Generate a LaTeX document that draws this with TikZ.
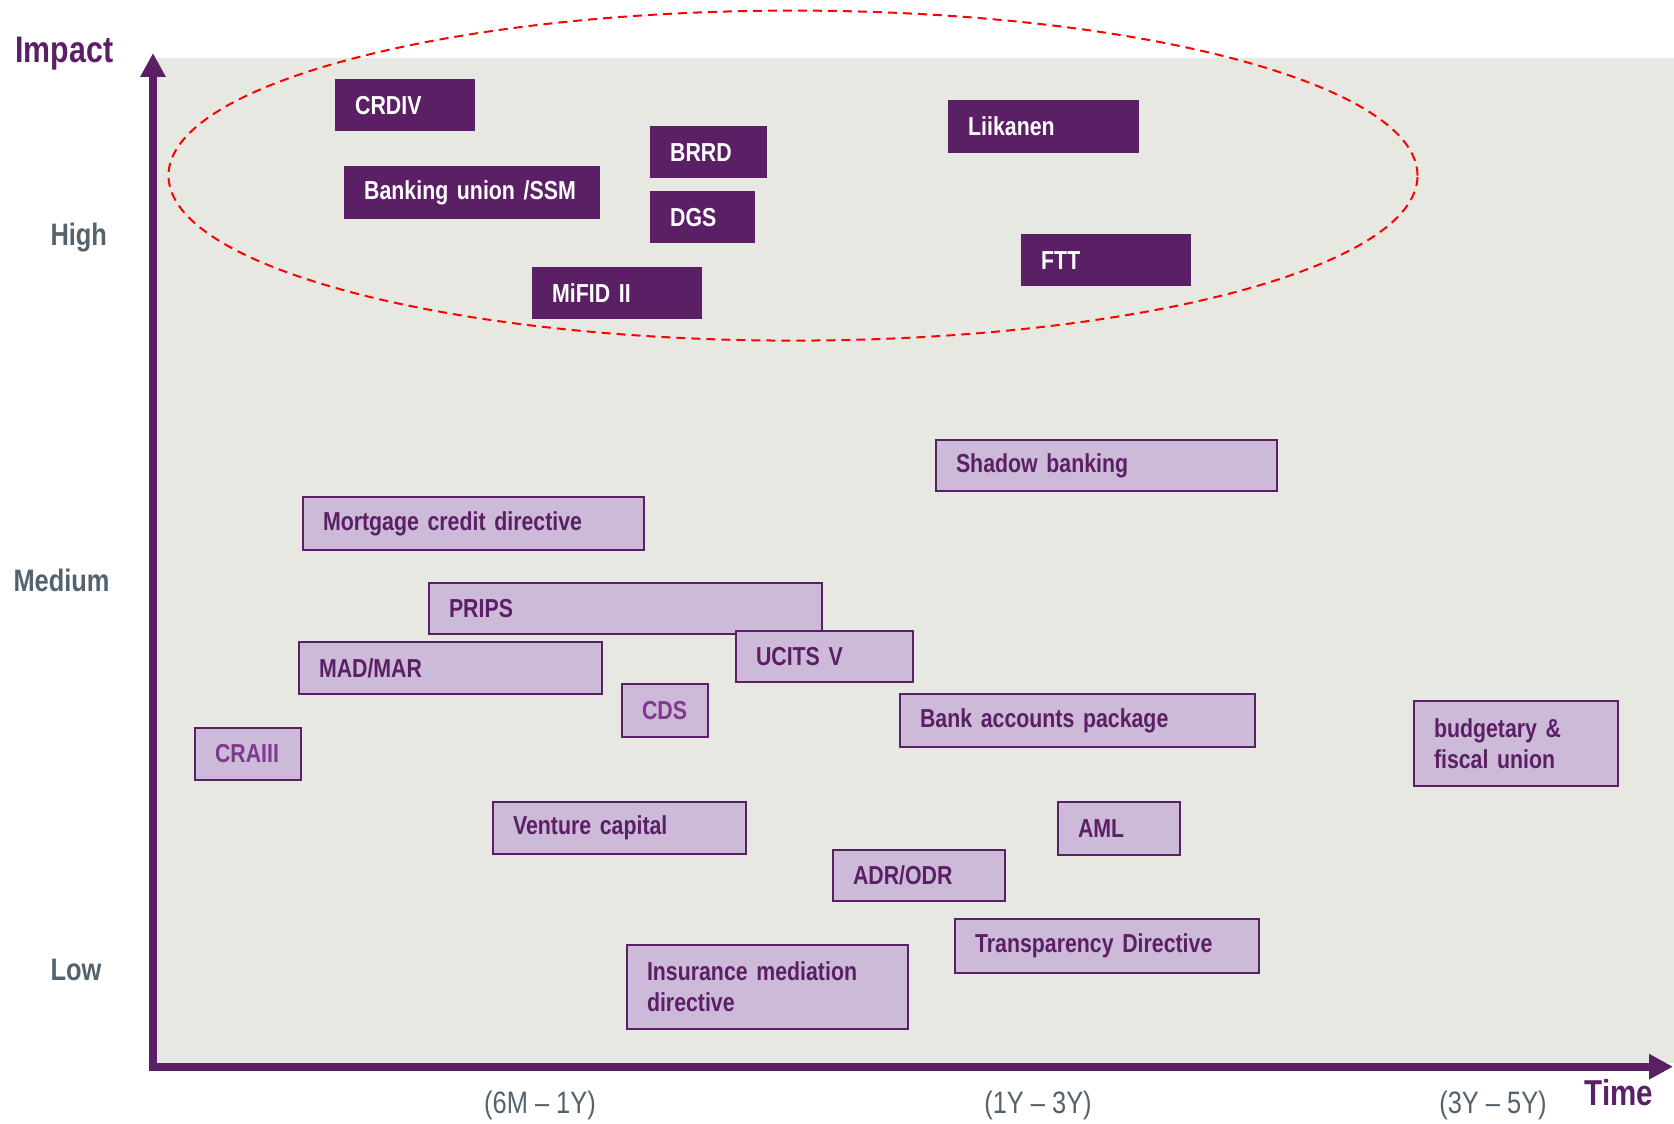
\documentclass[tikz,border=0pt]{standalone}
\usepackage{fontspec}
\setmainfont{Liberation Sans}[FakeStretch=0.82]
\usetikzlibrary{arrows.meta}

\definecolor{plum}{HTML}{5B1F66}
\definecolor{lilac}{HTML}{CDBAD8}
\definecolor{paper}{HTML}{E8E8E2}
\definecolor{slate}{HTML}{54626E}
\definecolor{orchid}{HTML}{7E3A8E}

\begin{document}
\begin{tikzpicture}[x=1pt,y=-1pt,
    box/.style={anchor=north west,inner xsep=20pt,inner ysep=0pt,align=left,
                font=\fontsize{26}{31}\selectfont\bfseries},
    high node/.style={box,fill=plum,text=white},
    low node/.style={box,fill=lilac,draw=plum,line width=2pt,text=plum},
    level/.style={anchor=base west,text=slate,font=\fontsize{31}{36}\selectfont\bfseries},
    span/.style={anchor=base,text=slate,font=\fontsize{31}{36}\selectfont},
    axis/.style={draw=plum,line width=8pt,-{Triangle[width=24pt,length=24pt]}}]

  \useasboundingbox (0,0) rectangle (1674,1124);
  \fill[paper] (157,58) rectangle (1674,1063);

  \draw[red,line width=2pt,dash pattern=on 9pt off 6pt]
    (793,175.6) ellipse [x radius=624.5pt,y radius=165pt];

  % high impact
  \node[high node,text width=100pt,minimum height=52pt] (crdiv) at (335,79) {CRDIV};
  \node[high node,text width=216pt,minimum height=53pt] (bankunion) at (344,166) {Banking union /SSM};
  \node[high node,text width=77pt,minimum height=52pt] (brrd) at (650,126) {BRRD};
  \node[high node,text width=65pt,minimum height=52pt] (dgs) at (650,191) {DGS};
  \node[high node,text width=130pt,minimum height=52pt] (mifid) at (532,267) {MiFID II};
  \node[high node,text width=151pt,minimum height=53pt] (liikanen) at (948,100) {Liikanen};
  \node[high node,text width=130pt,minimum height=52pt] (ftt) at (1021,234) {FTT};

  % medium and low impact
  \node[low node,text width=301pt,minimum height=51pt] (shadow) at (935,439) {Shadow banking};
  \node[low node,text width=301pt,minimum height=53pt] (mortgage) at (302,496) {Mortgage credit directive};
  \node[low node,text width=353pt,minimum height=51pt] (prips) at (428,582) {PRIPS};
  \node[low node,text width=263pt,minimum height=52pt] (madmar) at (298,641) {MAD/MAR};
  \node[low node,text width=137pt,minimum height=51pt] (ucits) at (735,630) {UCITS V};
  \node[low node,text width=46pt,minimum height=53pt,text=orchid] (cds) at (621,683) {CDS};
  \node[low node,text width=315pt,minimum height=53pt] (bankacc) at (899,693) {Bank accounts package};
  \node[low node,text width=164pt,minimum height=85pt] (budget) at (1413,700) {budgetary \&\\fiscal union};
  \node[low node,text width=66pt,minimum height=52pt,text=orchid] (craiii) at (194,727) {CRAIII};
  \node[low node,text width=213pt,minimum height=52pt] (venture) at (492,801) {Venture capital};
  \node[low node,text width=132pt,minimum height=51pt] (adr) at (832,849) {ADR/ODR};
  \node[low node,text width=82pt,minimum height=53pt] (aml) at (1057,801) {AML};
  \node[low node,text width=264pt,minimum height=54pt] (transp) at (954,918) {Transparency Directive};
  \node[low node,text width=241pt,minimum height=84pt] (insur) at (626,944) {Insurance mediation\\directive};

  % axes
  \coordinate (origin) at (153,1066.7);
  \coordinate (ytip) at (153,53);
  \coordinate (xtip) at (1673,1066.7);
  \draw[axis,line cap=rect] (origin) -- (ytip);
  \draw[axis,line cap=rect] (origin) -- (xtip);

  \node[anchor=base west,text=plum,font=\fontsize{37}{42}\selectfont\bfseries] (impact) at (12,63) {Impact};
  \node[anchor=base west,text=plum,font=\fontsize{36}{42}\selectfont\bfseries] (time) at (1581,1105) {Time};

  \node[level] (high) at (47,245) {High};
  \node[level] (medium) at (10,591) {Medium};
  \node[level] (low) at (47,980) {Low};

  \node[span] (short) at (540,1113) {(6M – 1Y)};
  \node[span] (mid) at (1038,1113) {(1Y – 3Y)};
  \node[span] (long) at (1493,1113) {(3Y – 5Y)};
\end{tikzpicture}
\end{document}
